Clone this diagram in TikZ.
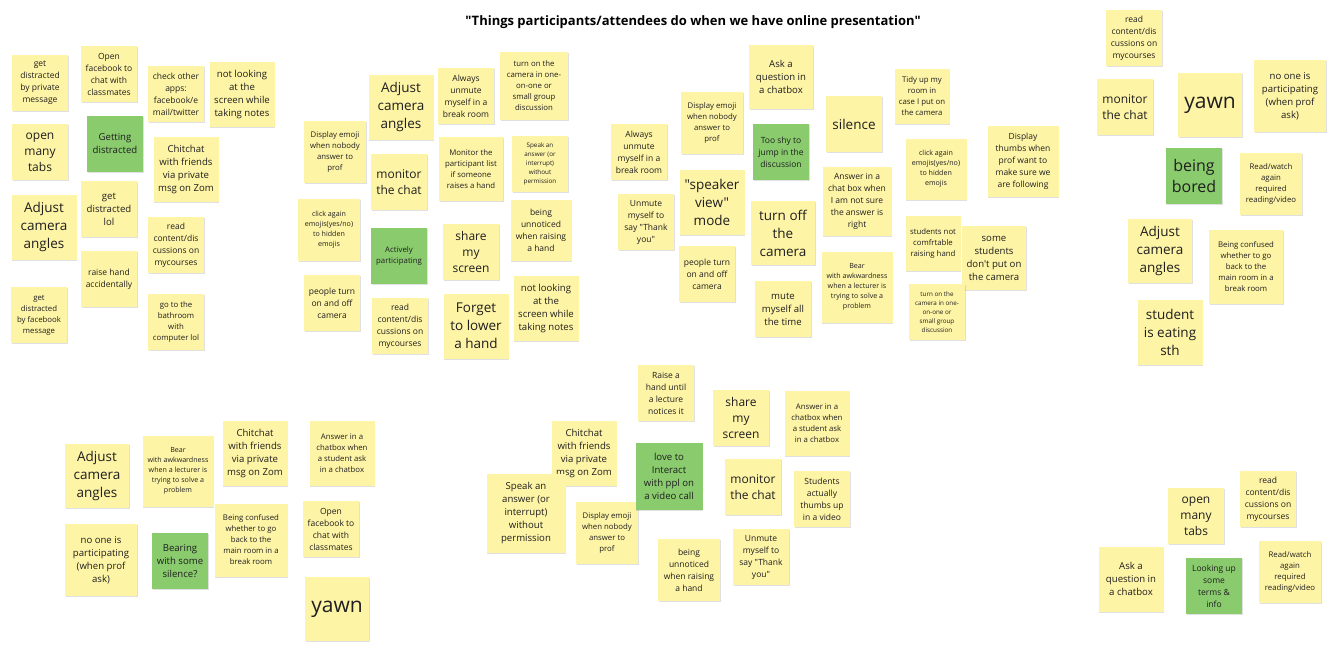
\documentclass[tikz,border=0pt]{standalone}
\usepackage{fontspec}
\setmainfont{Open Sans}[Ligatures=TeXOff]
\usepackage{tikz}
\usetikzlibrary{shadows}

\definecolor{noteyellow}{HTML}{FEF4A6}
\definecolor{notegreen}{HTML}{8ACB6E}

\tikzset{
  note/.style={fill=noteyellow, inner sep=0pt, align=center, text=black!88,
    drop shadow={fill=black, opacity=.12, shadow xshift=.6pt, shadow yshift=-1.2pt}},
  keynote/.style={note, fill=notegreen},
  fs1/.style={font=\fontsize{6.3}{9}\selectfont},
  fs2/.style={font=\fontsize{7.1}{10}\selectfont},
  fs3/.style={font=\fontsize{7.8}{11}\selectfont},
  fs4/.style={font=\fontsize{8.5}{12}\selectfont},
  fs5/.style={font=\fontsize{9.6}{13}\selectfont},
  fs6/.style={font=\fontsize{12}{16}\selectfont},
  fs7/.style={font=\fontsize{13.5}{18}\selectfont},
  fs8/.style={font=\fontsize{16}{21}\selectfont},
  fs9/.style={font=\fontsize{21}{26}\selectfont},
}

\begin{document}
\begin{tikzpicture}[x=1pt, y=-1pt]
\fill[white] (0,0) rectangle (1339,649);
\useasboundingbox (0,0) rectangle (1339,649);

\node[font=\fontsize{13}{16}\selectfont\bfseries] (title) at (693,22)
  {"Things participants/attendees do when we have online presentation"};

% yellow notes: x/y/size/font/text
\foreach \x/\y/\w/\f/\t [count=\i] in {
  40/83/56/fs4/{get\\distracted\\by private\\message},
  109/74/56/fs4/{Open\\facebook to\\chat with\\classmates},
  176/94/56/fs4/{check other\\apps:\\facebook/e\\mail/twitter},
  242/94/65/fs5/{not looking\\at the\\screen while\\taking notes},
  40/152/56/fs6/{open\\many\\tabs},
  186/169/65/fs5/{Chitchat\\with friends\\via private\\msg on Zom},
  44/227/65/fs7/{Adjust\\camera\\angles},
  109/209/56/fs5/{get\\distracted\\lol},
  176/245/56/fs4/{read\\content/dis\\cussions on\\mycourses},
  109/279/56/fs4/{raise hand\\accidentally},
  39/315/56/fs3/{get\\distracted\\by facebook\\message},
  176/322/56/fs3/{go to the\\bathroom\\with\\computer lol},
  401/107/65/fs7/{Adjust\\camera\\angles},
  466/96/56/fs4/{Always\\unmute\\myself in a\\break room},
  534/86/68/fs3/{turn on the\\camera in one-\\on-one or\\small group\\discussion},
  335/152/62/fs3/{Display emoji\\when nobody\\answer to\\prof},
  399/182/56/fs6/{monitor\\the chat},
  471/169/64/fs3/{Monitor the\\participant list\\if someone\\raises a hand},
  540/164/56/fs1/{Speak an\\answer (or\\interrupt)\\without\\permission},
  329/230/62/fs2/{click again\\emojis(yes/no)\\to hidden\\emojis},
  471/252/56/fs6/{share\\my\\screen},
  541/230/61/fs4/{being\\unnoticed\\when raising\\a hand},
  332/303/56/fs4/{people turn\\on and off\\camera},
  400/326/56/fs4/{read\\content/dis\\cussions on\\mycourses},
  476/326/65/fs7/{Forget\\to lower\\a hand},
  546/308/65/fs5/{not looking\\at the\\screen while\\taking notes},
  781/77/64/fs5/{Ask a\\question in\\a chatbox},
  712/123/62/fs3/{Display emoji\\when nobody\\answer to\\prof},
  639/152/56/fs4/{Always\\unmute\\myself in a\\break room},
  854/124/56/fs7/{silence},
  712/202/65/fs7/{"speaker\\view"\\mode},
  646/222/56/fs4/{Unmute\\myself to\\say "Thank\\you"},
  783/233/64/fs7/{turn off\\the\\camera},
  707/274/56/fs4/{people turn\\on and off\\camera},
  783/309/56/fs5/{mute\\myself all\\the time},
  922/96/55/fs3/{Tidy up my\\room in\\case I put on\\the camera},
  936/169/61/fs2/{click again\\emojis(yes/no)\\to hidden\\emojis},
  1023/161/71/fs4/{Display\\thumbs when\\prof want to\\make sure we\\are following},
  857/201/69/fs4/{Answer in a\\chat box when\\I am not sure\\the answer is\\right},
  933/243/55/fs3/{students not\\comfrtable\\raising hand},
  994/258/64/fs5/{some\\students\\don't put on\\the camera},
  857/287/71/fs2/{Bear\\with awkwardness\\when a lecturer is\\trying to solve a\\problem},
  937/312/56/fs1/{turn on the\\camera in one-\\on-one or\\small group\\discussion},
  1134/38/56/fs4/{read\\content/dis\\cussions on\\mycourses},
  1125/107/56/fs6/{monitor\\the chat},
  1210/105/64/fs9/{yawn},
  1290/96/72/fs5/{no one is\\participating\\(when prof\\ask)},
  1271/184/62/fs3/{Read/watch\\again\\required\\reading/video},
  1160/251/64/fs7/{Adjust\\camera\\angles},
  1246/267/74/fs3/{Being confused\\whether to go\\back to the\\main room in a\\break room},
  1170/332/65/fs7/{student\\is eating\\sth},
  97/476/64/fs7/{Adjust\\camera\\angles},
  178/471/71/fs2/{Bear\\with awkwardness\\when a lecturer is\\trying to solve a\\problem},
  255/453/65/fs5/{Chitchat\\with friends\\via private\\msg on Zom},
  342/453/65/fs3/{Answer in a\\chatbox when\\a student ask\\in a chatbox},
  101/560/72/fs5/{no one is\\participating\\(when prof\\ask)},
  251/540/73/fs3/{Being confused\\whether to go\\back to the\\main room in a\\break room},
  331/529/56/fs4/{Open\\facebook to\\chat with\\classmates},
  337/609/64/fs9/{yawn},
  666/393/56/fs4/{Raise a\\hand until\\a lecture\\notices it},
  741/418/56/fs6/{share\\my\\screen},
  817/423/65/fs3/{Answer in a\\chatbox when\\a student ask\\in a chatbox},
  584/453/65/fs5/{Chitchat\\with friends\\via private\\msg on Zom},
  753/487/56/fs6/{monitor\\the chat},
  822/499/56/fs4/{Students\\actually\\thumbs up\\in a video},
  526/513/79/fs5/{Speak an\\answer (or\\interrupt)\\without\\permission},
  607/533/62/fs3/{Display emoji\\when nobody\\answer to\\prof},
  689/570/62/fs4/{being\\unnoticed\\when raising\\a hand},
  761/557/56/fs4/{Unmute\\myself to\\say "Thank\\you"},
  1196/516/56/fs6/{open\\many\\tabs},
  1268/499/56/fs4/{read\\content/dis\\cussions on\\mycourses},
  1131/579/65/fs5/{Ask a\\question in\\a chatbox},
  1290/572/62/fs3/{Read/watch\\again\\required\\reading/video}}
  \node[note, \f, minimum size=\w pt] (y\i) at (\x,\y) {\t};

% green notes: the theme of each cluster
\foreach \x/\y/\w/\f/\t [count=\i] in {
  115/144/56/fs5/{Getting\\distracted},
  399/256/56/fs3/{Actively\\participating},
  781/152/56/fs4/{Too shy to\\jump in the\\discussion},
  1194/176/56/fs8/{being\\bored},
  180/561/56/fs5/{Bearing\\with some\\silence?},
  669/476/67/fs5/{love to\\Interact\\with ppl on\\a video call},
  1214/586/56/fs4/{Looking up\\some\\terms \&\\info}}
  \node[keynote, \f, minimum size=\w pt] (g\i) at (\x,\y) {\t};
\end{tikzpicture}
\end{document}
